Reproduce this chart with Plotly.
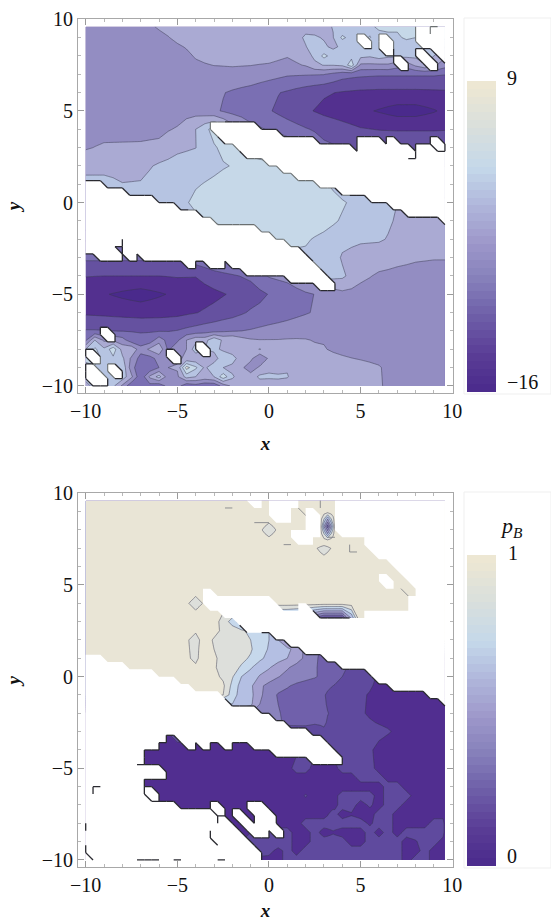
import numpy as np
import plotly.graph_objects as go
from plotly.colors import sample_colorscale

# ---------- coarse value grids, rows top to bottom ----------
Z_X = [-10, -9, -8, -7, -6, -5, -4, -3, -2, -1, 0, 1, 2, 3, 4, 5, 6, 7, 8, 9, 9.6]
Z_Y = [9.6, 9, 8, 7, 6, 5, 4, 3, 2, 1, 0, -1, -2, -3, -4, -5, -6, -7, -8, -9, -10]

TOP_Z = [
 [-5,-5,-5,-4.5,-3.2,-2.5,-2.5,-2.5,-2.5,-2.5,-2.5,-2.5,-2,-1.5,0,.5,2,3,2,2,2],
 [-5,-5,-5,-4.8,-4.2,-3,-2.5,-2.5,-2.5,-2.5,-2.9,-2.5,-.5,-1,.5,1.5,2,2.5,2,2,2],
 [-5,-5,-5,-5,-5,-4.6,-3.3,-2.5,-2.5,-2.5,-2.5,-3.3,.5,2,1,-.5,1,0,-.5,0,-4],
 [-5,-5,-5,-5,-5,-5,-4.5,-4.4,-4.2,-4.4,-5,-5.7,-5.8,-5.9,-7.5,-8,-8.2,-8.2,-8.2,-8.2,-8.4],
 [-4.8,-4.8,-4.8,-4.8,-4.8,-4.8,-4.9,-5.5,-6.3,-7,-8,-8.8,-9.8,-10.7,-11.2,-11.5,-11.6,-11.6,-11.6,-11.5,-11.4],
 [-4.8,-4.8,-4.8,-4.8,-4.8,-4.5,-4.5,-5.6,-6.8,-7.7,-8.3,-9.5,-10.6,-11.6,-12.3,-13,-13.7,-14.5,-14.5,-13.7,-13],
 [-4.4,-4.3,-4.2,-4.1,-4,-3.3,-1,2.5,-2,-5,-6.3,-7.3,-8.3,-9.2,-10,-10.8,-11.1,-11.2,-11.2,-11.2,-11.2],
 [-3.7,-3.2,-3.2,-3.2,-3,-1.6,-1.05,1.2,3,0,-2,-4,-6,-8,-8.5,-9,-9,-9,-9,-9,-8],
 [-2,-2,-2,-1.8,-.6,.1,.5,1,1.6,3,2.8,2,0,-2,-4,-6,-7,-7,-7,-7,-6],
 [0,0,-.9,-.8,.2,.7,1.3,1.9,2.8,3,3,3,3,2,0,-2,-4,-5,-5,-5,-5],
 [-.5,-.5,-.5,-.5,-.5,.7,2,3,3,3,3,3,3,3,1.8,.5,.3,-1,-3,-3,-3],
 [1,1,1,1,1,1,1,2,3,3,3,3,3,2.5,1.2,.4,0,-1.3,-1.2,-1.3,-1.5],
 [-3,-3,-6,-3,-3,-3,-3,-2,-1,1,2,3,1.8,.8,-.2,-.6,-.7,-1.6,-1.7,-1.7,-1.8],
 [-8,-8,-8,-8,-8,-8,-7,-6,-5,-3,-1,0,1,1.5,-1.3,-2.2,-2.5,-3,-3.3,-3.4,-3.4],
 [-10.9,-11,-11,-11,-11,-10.8,-10.9,-9.5,-8.8,-8,-5.8,-5,-3,0,-.5,-3,-3.8,-4,-4.1,-4.2,-4.2],
 [-12.7,-13.3,-14,-14.6,-13.8,-13,-12.4,-11.6,-10.7,-9.7,-8.4,-7.7,-6.4,-5.5,-4.2,-4.3,-4.6,-4.7,-4.7,-4.7,-4.7],
 [-11.4,-11.6,-11.8,-12,-11.9,-11.7,-11.1,-10.3,-9.4,-8.2,-7.6,-6.9,-6.2,-5.4,-4.8,-4.8,-4.8,-4.8,-4.8,-4.8,-4.8],
 [-8.3,-8.4,-8.6,-8.7,-8.7,-8.4,-7.5,-6.8,-6.2,-5.8,-5.2,-4.8,-4.2,-3.8,-4.5,-4.8,-4.8,-4.8,-4.8,-4.8,-4.8],
 [-2,0,1,-6,-5,-3,-3,-1.5,-3,-3,-3.3,-3,-3,-3.4,-4,-4.6,-4.8,-4.8,-4.8,-4.8,-4.8],
 [0,3,1,-3,-8,0,2,-1,-3,-1.5,-1.5,-1,-2.5,-2.5,-2.5,-2.7,-3.3,-4.8,-4.8,-4.8,-4.8],
 [-2,-2,-5,-8,-8,-4.5,-7,-8,-3.8,-2.5,-2.5,-2.5,-2.5,-2.5,-2.5,-2.5,-3.2,-4.7,-4.8,-4.8,-4.8],
]
# finer readings where the upper panel is speckled
TOP_PATCH1_X = [1.5,2,2.5,3,3.5,4,4.5,5,5.5,6,6.5,7,7.5,8,8.5,9,9.6]
TOP_PATCH1_Y = [9.6,9,8.5,8,7.5,7]
TOP_PATCH1_Z = [
 [-2.5,-2.3,-2,-1.5,-.9,-.5,.5,.5,1,2,2,2,2,2,2,2,2],
 [-2.2,-.4,-.7,-1.2,-1.1,2,.6,1,1.6,.5,1,1,2,1.5,1,2,2],
 [-2.5,-1.2,.8,-.6,-1.5,-.5,.3,1,.5,.6,1,.6,-.3,.3,1,0,-1],
 [-2.8,-2,-.5,2.2,.4,-.7,.7,-.3,-.7,.2,-.5,-.4,-.3,-.4,1,-1,-3],
 [-3.8,-3.3,-1.5,-.9,-.9,-.5,3,-4,-4,-4,-3.9,-5,-5,-3,-1.5,-3,-5],
 [-5.75,-5.8,-5.85,-5.9,-6.7,-7.5,-7.8,-8,-8.1,-8.2,-8.2,-8.2,-8.2,-8.2,-8.2,-8.2,-8.4],
]
TOP_PATCH2_X = [-10,-9.5,-9,-8.5,-8,-7.5,-7,-6.5,-6,-5.5,-5,-4.5,-4,-3.5,-3,-2.5,-2,-1.5,-1,-.5,0,.5,1,1.5,2]
TOP_PATCH2_Y = [-7,-7.5,-8,-8.5,-9,-9.5,-10]
TOP_PATCH2_Z = [
 [-8.3,-8.3,-8.4,-8.5,-8.6,-8.6,-8.7,-8.7,-8.7,-8.6,-8.4,-7.9,-7.5,-7.1,-6.8,-6.4,-6.2,-6,-5.8,-5.5,-5.2,-5,-4.8,-4.5,-4.2],
 [-6.5,-1,-4,-4,-5,-7.5,-7.8,-7.5,-4.5,-7,-6.5,-3.5,-1.8,-2,1,-1.5,-1.2,-2.5,-3.2,-3.4,-3.4,-3.4,-3.3,-3.3,-3.4],
 [-1,2,-.5,3,-2,-1.5,-5,-3,-1.5,-6.5,-4,-3.5,.5,-1,-.3,-1.5,-3,-1.2,-2.5,-.8,-2.8,-3.5,-3.3,-3,-3],
 [3,4.5,-.5,1,-.5,-4,-7,-7,-5,-3.5,-4,-3,-3,-1,-2.5,1,.5,-3,-2.8,-6,-3,-3,-3,-2.8,-2.8],
 [-.5,.5,.5,-.5,1,-5,-8,-8,-6,-3.5,-3.2,5,2,-1.5,.8,-1,-2,-3,-5,-3,-1.6,-2.3,-1.3,-3,-2.8],
 [0,0,.5,.2,.5,-3,-8,-3,0,-5,-4,0,-1,-1.8,-1,3,-.5,-3,-2.3,-.5,-.6,-.5,-.8,-2.5,-2.5],
 [-2,0,0,-.5,-4,-8,-8.5,-7,-8,-5,-4.8,-8,-7,-8,-8,-5,-3,-2.5,-2.5,-2.5,-2.5,-2.5,-2.5,-2.5,-2.5],
]

BOTTOM_Z = [
 [.95]*21,
 [.95]*21,
 [.95,.95,.95,.95,.95,.95,.95,.95,.95,.95,.87,.95,.95,.95,.95,.95,.95,.95,.95,.95,.95],
 [.95,.95,.95,.95,.95,.95,.95,.95,.95,.95,.95,.95,.95,.87,.95,.95,.95,.95,.95,.95,.95],
 [.95]*21,
 [.95]*21,
 [.95,.95,.95,.95,.95,.95,.87,.95,.95,.95,.95,.95,.95,.95,.95,.95,.95,.95,.95,.95,.95],
 [.95,.95,.95,.95,.95,.95,.95,.95,.76,.5,.5,.5,.4,.1,.1,.95,.95,.95,.95,.95,.95],
 [.95,.95,.95,.95,.95,.95,.87,.9,.85,.79,.69,.5,.4,.3,.3,.95,.95,.95,.95,.95,.95],
 [.95,.95,.95,.95,.95,.95,.88,.91,.84,.79,.66,.6,.49,.38,.32,.29,.22,.2,.2,.2,.2],
 [.95,.95,.95,.95,.95,.95,.95,.93,.81,.66,.55,.47,.43,.37,.3,.25,.19,.18,.18,.18,.18],
 [.95,.95,.95,.95,.95,.95,.95,.95,.74,.63,.45,.37,.33,.305,.25,.21,.18,.17,.17,.16,.16],
 [.15,.15,.15,.15,.15,.15,.15,.15,.15,.15,.45,.37,.34,.31,.26,.21,.17,.18,.17,.16,.16],
 [.15,.15,.15,.15,.15,.27,.27,.15,.27,.27,.15,.15,.23,.29,.25,.23,.22,.19,.17,.16,.16],
 [.15,.15,.15,.15,.15,.15,.15,.15,.15,.15,.15,.15,.2,.23,.25,.24,.18,.16,.16,.16,.16],
 [.15,.15,.15,.15,.15,.15,.15,.15,.15,.15,.15,.15,.17,.18,.19,.24,.19,.16,.16,.16,.16],
 [.15]*21,
 [.15]*21,
 [.15,.15,.15,.15,.15,.15,.15,.15,.15,.15,.15,.18,.21,.22,.21,.22,.18,.21,.15,.21,.16],
 [.15,.15,.15,.15,.15,.15,.15,.15,.15,.25,.23,.16,.17,.21,.22,.21,.18,.22,.17,.23,.16],
 [.15,.15,.15,.15,.15,.15,.15,.15,.15,.21,.17,.22,.22,.16,.15,.22,.22,.22,.17,.15,.15],
]
BOTTOM_PATCH1_X = [-3.5,-3,-2.5,-2,-1.5,-1,-.5,0,.5,1,1.5,2,2.5,3,3.5,4]
BOTTOM_PATCH1_Y = [2.5,2,1.5,1,.5,0,-.5,-1,-1.5,-2,-2.5]
BOTTOM_PATCH1_Z = [
 [.95,.93,.88,.85,.82,.77,.75,.7,.6,.5,.5,.4,.4,.3,.3,.3],
 [.94,.89,.86,.84,.82,.8,.75,.7,.6,.5,.5,.4,.4,.3,.3,.3],
 [.95,.9,.87,.85,.83,.81,.75,.69,.66,.62,.57,.47,.42,.38,.35,.33],
 [.95,.91,.88,.85,.82,.79,.72,.67,.64,.6,.54,.48,.41,.38,.34,.32],
 [.94,.91,.87,.83,.79,.71,.65,.61,.55,.51,.47,.44,.41,.37,.33,.31],
 [.95,.93,.88,.81,.7,.66,.59,.55,.505,.47,.45,.43,.41,.37,.34,.3],
 [.95,.95,.92,.77,.66,.62,.52,.47,.44,.41,.38,.36,.34,.32,.3,.27],
 [.95,.95,.9,.74,.66,.63,.52,.45,.39,.37,.35,.33,.32,.305,.27,.25],
 [.6,.6,.6,.7,.65,.62,.5,.45,.4,.37,.35,.34,.32,.31,.27,.25],
 [.5,.5,.5,.5,.5,.5,.5,.45,.41,.37,.35,.34,.32,.31,.29,.25],
 [.45,.45,.45,.45,.45,.45,.45,.45,.42,.37,.36,.34,.31,.31,.27,.25],
]
BOTTOM_PATCH2_X = [0,.5,1,1.5,2,2.5,3,3.5,4,4.5,5,5.5,6,6.5,7,7.5,8,8.5,9,9.5,9.6]
BOTTOM_PATCH2_Y = [-5,-5.5,-6,-6.5,-7,-7.5,-8,-8.5,-9,-9.5,-10]
BOTTOM_PATCH2_Z = [
 [.15,.15,.15,.25,.25,.15,.15,.15,.25,.25,.25,.25,.15,.15,.15,.15,.15,.15,.15,.15,.15],
 [.15,.15,.15,.15,.15,.15,.15,.15,.15,.15,.25,.25,.25,.15,.15,.15,.15,.15,.15,.15,.15],
 [.15,.15,.15,.15,.15,.15,.15,.15,.15,.15,.15,.15,.15,.25,.25,.15,.15,.15,.15,.15,.15],
 [.15,.15,.15,.15,.21,.15,.15,.15,.25,.25,.25,.25,.15,.25,.25,.25,.15,.15,.15,.15,.15],
 [.15,.15,.15,.15,.15,.15,.15,.15,.25,.25,.15,.22,.15,.25,.25,.15,.15,.15,.15,.15,.15],
 [.15,.15,.15,.15,.15,.15,.15,.25,.15,.19,.15,.15,.25,.25,.15,.15,.15,.15,.15,.15,.15],
 [.15,.15,.15,.15,.25,.25,.25,.25,.25,.25,.25,.18,.25,.25,.15,.15,.15,.15,.25,.25,.15],
 [.25,.25,.25,.15,.15,.25,.15,.19,.15,.15,.15,.25,.15,.25,.15,.25,.25,.25,.25,.25,.15],
 [.25,.3,.25,.15,.15,.25,.25,.25,.25,.15,.15,.25,.25,.25,.25,.15,.19,.25,.25,.15,.15],
 [.25,.15,.25,.15,.25,.25,.25,.25,.25,.25,.25,.25,.25,.25,.25,.15,.15,.25,.15,.15,.15],
 [.15,.15,.25,.25,.25,.25,.25,.25,.25,.25,.25,.25,.25,.25,.25,.15,.25,.25,.15,.15,.15],
]
BOTTOM_PATCH3_X = [2.8,3,3.2,3.4,3.6]
BOTTOM_PATCH3_Y = [9,8.6,8.2,7.8,7.4]
BOTTOM_PATCH3_Z = [
 [.95,.95,.95,.95,.95],
 [.95,.8,.6,.8,.95],
 [.95,.6,.35,.6,.95],
 [.95,.8,.6,.8,.95],
 [.95,.95,.95,.95,.95],
]

# ---------- sampled grid: which of the 50x50 nodes carry a value ----------
NODE_X = [round(-10 + 0.4 * i, 1) for i in range(50)]
NODE_Y = [round(9.6 - 0.4 * i, 1) for i in range(50)]

TOP_MISSING = {
 0:[46,49], 1:[46,48,49], 2:[38,41,(46,49)], 3:[41,48,49], 4:[46,49], 5:[43,47],
 14:[(18,23)], 15:[(19,26)], 16:[(21,31),(38,40),42,48], 17:[(22,36),(38,44),46,47],
 18:[(25,43),(46,49)], 19:[(27,49)], 20:[(29,49)], 21:[(32,49)], 22:[(0,2),(35,49)],
 23:[(0,5),(39,49)], 24:[(0,9),(42,49)], 25:[(0,12),(44,49)], 26:[(0,15),49], 27:[(0,17)],
 28:[(0,23)], 29:[(0,4),(6,25)], 30:[(0,3),(6,27)], 31:[(2,4),6,(8,29)],
 32:[14,17,18,(20,30)], 33:[(22,31)], 34:[(28,32)], 35:[32,33],
 42:[3], 44:[16], 45:[1,12], 47:[1,4], 48:[1,2],
}
BOTTOM_PRESENT = [
 [(0,22),(24,25),(29,34)], [(0,25),(28,34)], [(0,25),(28,30),(32,34)], [(0,30),(32,34)],
 [(0,30),(32,34)], [(0,28),(31,38)], [(0,38)], [(0,39)], [(0,41)], [(0,42)], [(0,43)],
 [(0,40),(42,44)], [(0,45)], [(0,16),(18,45)], [(0,16),(26,44)], [(0,18),(27,29),(31,44)],
 [(0,20),(32,38)], [(0,21)], [(0,25)], [(0,27)], [(0,29)], [(0,32)], [(3,34)], [(6,38)],
 [(10,39)], [(13,41)], [(15,46)], [(19,48)], [(20,49)], [(24,49)], [(26,49)], [(28,49)],
 [(11,12),(31,49)], [(10,13),15,(17,18),(20,22),(33,49)], [(8,25),(34,49)], [(8,30),(35,49)],
 [(7,49)], [(11,49)], [(8,49)], [(1,2),(8,49)], [1,8,(10,49)], [(9,49)],
 [(13,17),(19,22),(25,49)], [(18,20),(22,23),(26,49)], [0,18,(20,21),23,(26,49)],
 [0,17,(21,22),25,(27,49)], [17,(22,49)], [0,18,(23,49)], [0,(24,49)],
 [1,(7,10),(12,13),(18,19),(24,49)],
]
STRAY_X = [-2.4,-2,None,-.8,0,None,.8,1.2,None,1.6,2,None,2.8,2.8,None,3.2,3.6,None,4.4,4.4,4.8,None,7.2,7.6]
STRAY_Y = [9.2,9.2,None,8.4,8.4,None,7.2,7.2,None,9.2,8.8,None,9.6,9.2,None,7.6,7.6,None,7.2,6.8,6.8,None,4.8,4.4]

TOP_BANDS = ["#4a2a8c","#53308f","#6551a0","#7a6fb3","#938dc2","#aaaad3","#b6c4e2","#c6d8e8","#dddfdb","#e9e5d6"]
BOTTOM_BANDS = ["#4f2c8f","#512e90","#5f4a9e","#7060ab","#8a83bd","#a4a0cf","#b4bfe3","#c6d8ec","#dddfdb","#e9e5d6"]
BAR_STOPS = [[0,"#4a2a8c"],[.12,"#5a3d96"],[.25,"#6f60a9"],[.36,"#8580ba"],[.47,"#9c96c9"],
             [.6,"#b0b6db"],[.72,"#c4d8ea"],[.85,"#d9dfdc"],[1,"#efe8d2"]]
TOP_LEVELS = (-13.5, 6.5, 2.5)
BOTTOM_LEVELS = (0.1, 0.9, 0.1)
TOP_RANGE = (-16, 9)
BOTTOM_RANGE = (0, 1)
TICKS = [-10, -5, 0, 5, 10]
TICK_TEXT = ["\u221210", "\u22125", "0", "5", "10"]

SERIF = "Liberation Serif"
W, H = 551, 921


def expand(ranges):
    out = []
    for r in ranges:
        if isinstance(r, tuple):
            out.extend(range(r[0], r[1] + 1))
        else:
            out.append(r)
    return out


def mask_from_missing(d):
    m = np.ones((50, 50), bool)
    for r, v in d.items():
        m[r, expand(v)] = False
    return m


def mask_from_present(rows):
    m = np.zeros((50, 50), bool)
    for r, v in enumerate(rows):
        m[r, expand(v)] = True
    return m


def nearest_z(z, x, y):
    return z[int(np.argmin(np.abs(np.array(Z_Y) - y)))][int(np.argmin(np.abs(np.array(Z_X) - x)))]


def gap_geometry(mask, z, light_above):
    tx, ty = [], []
    edges = {}
    for r in range(49):
        for c in range(49):
            tl, tr, bl, br = (r, c), (r, c + 1), (r + 1, c), (r + 1, c + 1)
            for tri in ((tl, tr, br), (tl, bl, br)):
                kept = all(mask[n] for n in tri)
                for a, b in ((tri[0], tri[1]), (tri[1], tri[2]), (tri[0], tri[2])):
                    edges.setdefault(tuple(sorted((a, b))), []).append(kept)
                if not kept:
                    for n in tri + (tri[0],):
                        tx.append(NODE_X[n[1]])
                        ty.append(NODE_Y[n[0]])
                    tx.append(None)
                    ty.append(None)
    dark = ([], [])
    light = ([], [])
    for (a, b), flags in edges.items():
        if not (mask[a] and mask[b]):
            continue
        k = sum(flags)
        if k == 0 or (k == 1 and len(flags) == 2):
            mx = (NODE_X[a[1]] + NODE_X[b[1]]) / 2
            my = (NODE_Y[a[0]] + NODE_Y[b[0]]) / 2
            v = nearest_z(z, mx, my)
            tgt = light if light_above(v) else dark
            tgt[0].extend([NODE_X[a[1]], NODE_X[b[1]], None])
            tgt[1].extend([NODE_Y[a[0]], NODE_Y[b[0]], None])
    return tx, ty, dark, light


def stepped(n=40):
    cols = sample_colorscale(BAR_STOPS, [(i + .5) / n for i in range(n)])
    out = []
    for i, col in enumerate(cols):
        out += [[i / n, col], [(i + 1) / n, col]]
    return out


def lookup(gx, gy, gz, x, y):
    """Value of a reading table at (x, y), between its rows and columns."""
    xs = np.array(gx, float)
    ys = np.array(gy, float)[::-1]
    zz = np.array(gz, float)[::-1]
    i = int(np.clip(np.searchsorted(xs, x) - 1, 0, len(xs) - 2))
    j = int(np.clip(np.searchsorted(ys, y) - 1, 0, len(ys) - 2))
    tx = (x - xs[i]) / (xs[i + 1] - xs[i])
    ty = (y - ys[j]) / (ys[j + 1] - ys[j])
    return ((1 - tx) * (1 - ty) * zz[j, i] + tx * (1 - ty) * zz[j, i + 1]
            + (1 - tx) * ty * zz[j + 1, i] + tx * ty * zz[j + 1, i + 1])


def merged(base, patches):
    """One value table on the union of the reading positions: patches override the coarse table."""
    xs = sorted(set(Z_X).union(*[set(p[0]) for p in patches]))
    ys = sorted(set(Z_Y).union(*[set(p[1]) for p in patches]))
    out = np.zeros((len(ys), len(xs)))
    for j, y in enumerate(ys):
        for i, x in enumerate(xs):
            v = lookup(Z_X, Z_Y, base, x, y)
            for px, py, pz in patches:
                if px[0] <= x <= px[-1] and py[-1] <= y <= py[0]:
                    v = lookup(px, py, pz, x, y)
            out[j, i] = v
    return xs, ys, out


fig = go.Figure()


def panel(z, patches, bands, levels, zr, mask, xa, ya, bar_top, bar_bottom, light_above, outline_light):
    xs, ys, zz = merged(z, patches)
    n = len(bands) - 1
    fig.add_trace(go.Contour(
        x=xs, y=ys, z=zz, xaxis=xa, yaxis=ya, showscale=False, hoverinfo="skip",
        autocontour=False, zmin=zr[0], zmax=zr[1],
        contours=dict(start=levels[0], end=levels[1], size=levels[2], coloring="fill", showlines=True),
        line=dict(color="rgba(55,55,75,0.6)", width=0.8, smoothing=0),
        colorscale=[[i / n, c] for i, c in enumerate(bands)],
    ))
    tx, ty, dark, light = gap_geometry(mask, z, light_above)
    fig.add_trace(go.Scatter(x=tx, y=ty, xaxis=xa, yaxis=ya, mode="none", fill="toself",
                             fillcolor="white", hoverinfo="skip", showlegend=False))
    if light[0] and outline_light:
        fig.add_trace(go.Scatter(x=light[0], y=light[1], xaxis=xa, yaxis=ya, mode="lines",
                                 line=dict(color=outline_light, width=1.1), hoverinfo="skip", showlegend=False))
    fig.add_trace(go.Scatter(x=dark[0], y=dark[1], xaxis=xa, yaxis=ya, mode="lines",
                             line=dict(color="#2a2a30", width=1.3), hoverinfo="skip", showlegend=False))
    fig.add_trace(go.Scatter(
        x=[-50, -50], y=[-50, -50], xaxis=xa, yaxis=ya, mode="markers", hoverinfo="skip", showlegend=False,
        marker=dict(color=list(zr), cmin=zr[0], cmax=zr[1], colorscale=stepped(), showscale=True,
                    colorbar=dict(x=466.7 / W, xanchor="left", xpad=0, ypad=0, thickness=29,
                                  thicknessmode="pixels", len=(bar_bottom - bar_top) / H, lenmode="fraction",
                                  y=1 - bar_bottom / H, yanchor="bottom", outlinewidth=0,
                                  showticklabels=False, ticks=""))))


panel(TOP_Z, [(TOP_PATCH1_X, TOP_PATCH1_Y, TOP_PATCH1_Z), (TOP_PATCH2_X, TOP_PATCH2_Y, TOP_PATCH2_Z)],
      TOP_BANDS, TOP_LEVELS, TOP_RANGE, mask_from_missing(TOP_MISSING), "x", "y", 81, 391.7,
      lambda v: v >= 1.5, "#6a6f70")
panel(BOTTOM_Z, [(BOTTOM_PATCH1_X, BOTTOM_PATCH1_Y, BOTTOM_PATCH1_Z), (BOTTOM_PATCH2_X, BOTTOM_PATCH2_Y, BOTTOM_PATCH2_Z),
                 (BOTTOM_PATCH3_X, BOTTOM_PATCH3_Y, BOTTOM_PATCH3_Z)],
      BOTTOM_BANDS, BOTTOM_LEVELS, BOTTOM_RANGE, mask_from_present(BOTTOM_PRESENT), "x2", "y2", 555, 865.7,
      lambda v: v >= 0.75, None)
fig.add_trace(go.Scatter(x=STRAY_X, y=STRAY_Y, xaxis="x2", yaxis="y2", mode="lines",
                         line=dict(color="#777a80", width=0.8), hoverinfo="skip", showlegend=False))


def axis_style(**kw):
    d = dict(tickmode="array", tickvals=TICKS, ticktext=TICK_TEXT, ticks="inside", ticklen=6, tickwidth=1,
             tickcolor="#9a9a9a", showline=True, linecolor="#a8a8a8", linewidth=1, mirror="allticks",
             showgrid=False, zeroline=False, tickfont=dict(family=SERIF, size=20, color="#111"),
             minor=dict(tickmode="linear", tick0=0, dtick=1, ticks="inside", ticklen=3, tickwidth=1,
                        tickcolor="#b8b8b8", showgrid=False))
    d.update(kw)
    return d


def title(t, s):
    return dict(text="<b><i>%s</i></b>" % t, font=dict(family=SERIF, size=19, color="#111"), standoff=s)


XD = [78 / W, 453 / W]
fig.update_layout(
    width=W, height=H, autosize=False, margin=dict(l=0, r=0, t=0, b=0, autoexpand=False), paper_bgcolor="white",
    plot_bgcolor="white", showlegend=False, hovermode=False,
    xaxis=axis_style(domain=XD, range=[-10.42, 10.04], anchor="y", title=title("x", 15)),
    yaxis=axis_style(domain=[1 - 392.7 / H, 1 - 19.3 / H], range=[-10.37, 10.0], anchor="x", title=title("y", 16)),
    xaxis2=axis_style(domain=XD, range=[-10.42, 10.04], anchor="y2", title=title("x", 15)),
    yaxis2=axis_style(domain=[1 - 867.3 / H, 1 - 493.3 / H], range=[-10.4, 10.0], anchor="x2", title=title("y", 16)),
    shapes=[
        dict(type="rect", xref="paper", yref="paper", x0=464 / W, x1=1, y0=1 - 394 / H, y1=1 - 18 / H,
             line=dict(color="#efefef", width=1), fillcolor="rgba(0,0,0,0)", layer="below"),
        dict(type="rect", xref="paper", yref="paper", x0=464 / W, x1=1, y0=1 - 868 / H, y1=1 - 492 / H,
             line=dict(color="#efefef", width=1), fillcolor="rgba(0,0,0,0)", layer="below"),
    ],
    annotations=[
        dict(text=t, xref="paper", yref="paper", x=xx / W, y=1 - yy / H, showarrow=False, xanchor="left",
             yanchor="middle", font=dict(family=SERIF, size=s, color="#111"))
        for t, xx, yy, s in [("9", 505, 78, 20), ("\u221216", 505, 382, 20), ("1", 506, 553, 20),
                             ("0", 505, 856, 20), ("<i>p</i><sub><i>B</i></sub>", 498, 527, 22)]
    ],
)
fig.write_html("out.html", config={"displayModeBar": False},
               post_script="document.body.style.margin='0';document.documentElement.style.overflow='hidden';")
